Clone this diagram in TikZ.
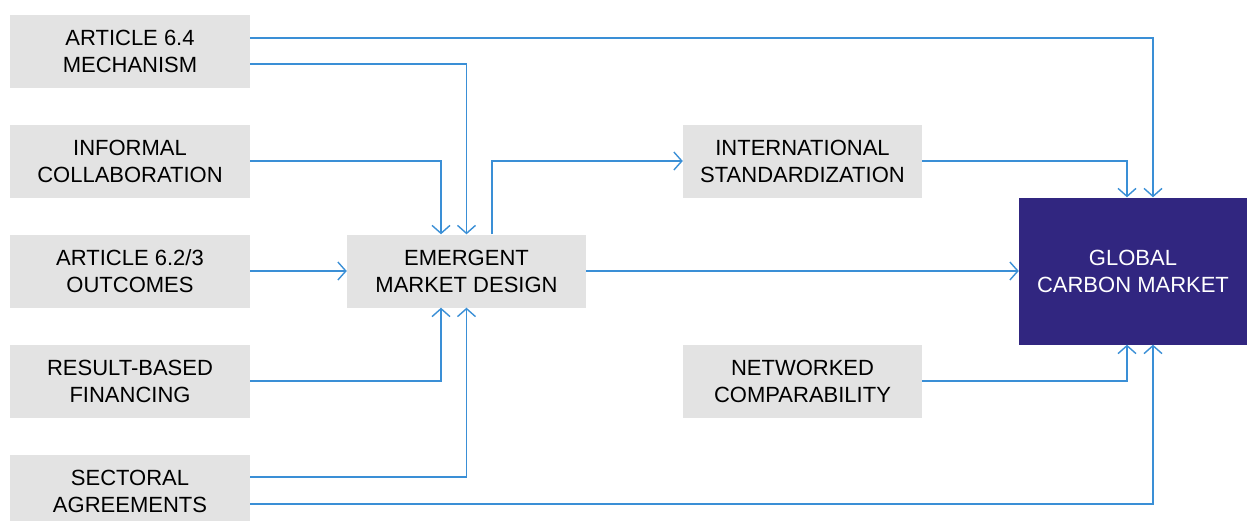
\documentclass[tikz,border=0pt]{standalone}
\usepackage{fontspec}
\setmainfont{Liberation Sans}
\usetikzlibrary{arrows.meta}
\definecolor{boxgray}{HTML}{E3E3E3}
\definecolor{linkblue}{HTML}{3A8FD6}
\definecolor{globpurple}{HTML}{312680}
\begin{document}
\begin{tikzpicture}[x=1pt, y=-1pt,
	box/.style = {fill=boxgray, minimum width=240pt, minimum height=73pt, inner sep=0pt, align=center, font=\fontsize{22}{27}\selectfont},
	link/.style = {draw=linkblue, line width=1.4pt, -{Straight Barb[length=8pt, width=18pt, line width=1.4pt]}},
	plain/.style = {draw=linkblue, line width=1.4pt}]
				\useasboundingbox (0,0) rectangle (1248,520);
				\clip (0,0) rectangle (1248,520);
				%input boxes
				\node[box] (art64) at (130,51) {ARTICLE 6.4\\MECHANISM};
				\node[box] (informal) at (130,161) {INFORMAL\\COLLABORATION};
				\node[box] (art62) at (130,271) {ARTICLE 6.2/3\\OUTCOMES};
				\node[box] (rbf) at (130,381) {RESULT-BASED\\FINANCING};
				\node[box] (sectoral) at (130,491) {SECTORAL\\AGREEMENTS};
				%middle boxes
				\node[box, minimum width=239pt] (emergent) at (466.5,271) {EMERGENT\\MARKET DESIGN};
				\node[box, minimum width=239pt] (intl) at (802.5,161) {INTERNATIONAL\\STANDARDIZATION};
				\node[box, minimum width=239pt] (network) at (802.5,381) {NETWORKED\\COMPARABILITY};
				%target
				\node[box, fill=globpurple, text=white, minimum width=228pt, minimum height=147pt] (glob) at (1133,271) {GLOBAL\\CARBON MARKET};
				%arrows into emergent design
				\draw[link] ([yshift=-13pt]art64.east) -| (emergent.north);
				\draw[link] (informal.east) -| ([xshift=-25.5pt]emergent.north);
				\draw[link] (art62.east) -- (emergent.west);
				\draw[link] (rbf.east) -| ([xshift=-25.5pt]emergent.south);
				\draw[link] ([yshift=14pt]sectoral.east) -| (emergent.south);
				%arrows into global market
				\draw[link] ([yshift=13pt]art64.east) -| ([xshift=20pt]glob.north);
				\draw[link] ([yshift=-13pt]sectoral.east) -| ([xshift=20pt]glob.south);
				\draw[link] (emergent.east) -- (glob.west);
				\draw[link] ([xshift=25.5pt]emergent.north) |- (intl.west);
				\draw[link] (intl.east) -| ([xshift=-6pt]glob.north);
				\draw[link] (network.east) -| ([xshift=-6pt]glob.south);
			\end{tikzpicture}
\end{document}
